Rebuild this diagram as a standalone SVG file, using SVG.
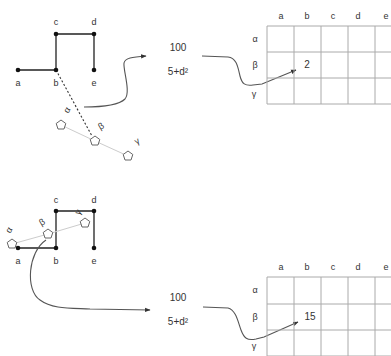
<svg xmlns="http://www.w3.org/2000/svg" width="391" height="356" viewBox="0 0 391 356">
<defs>
<style>
text{font-family:"Liberation Sans",Arial,sans-serif;font-size:9px;fill:#333;text-anchor:middle}
.e{stroke:#222;stroke-width:1.3;fill:none}
.n{fill:#111}
.g{stroke:#aaa;stroke-width:1;fill:none}
.c{stroke:#555;stroke-width:1.1;fill:none}
.l{stroke:#ccc;stroke-width:1;fill:none}
.p{stroke:#666;stroke-width:1;fill:#fff}
.f{font-size:10px}
</style>
<marker id="ah" viewBox="0 0 10 10" refX="9" refY="5" markerWidth="5" markerHeight="5" orient="auto">
<path d="M0,1 L10,5 L0,9 z" fill="#333"/>
</marker>
<polygon id="pent" points="0,-5 4.8,-1.5 3,4 -3,4 -4.8,-1.5"/>
</defs>

<!-- connectors -->
<g id="connectors">
<path class="e" d="M18,70 H56 V34 H94 V70"/>
<path d="M56,70 L92,136" stroke="#333" stroke-width="1.1" stroke-dasharray="2,2" fill="none"/>
<path class="l" d="M61,125 L95,141 L128,156"/>
<path class="c" marker-end="url(#ah)" d="M84,107 C100,107 118,106 125,99 C131,92 123,70 124,63 C125,58 132,57 146,56"/>
<path class="c" marker-end="url(#ah)" d="M202,56 L228,57 C237,58 238,68 240,76 C242,84 245,86 253,85 L262,84 L296,70"/>

<path class="e" d="M18,248 H56 V211 H94 V248"/>
<path class="l" d="M12,244 L48,234 L85,223"/>
<path class="c" marker-end="url(#ah)" d="M46,240 C28,252 25,290 40,300 C52,309 70,308 90,309 L150,310"/>
<path class="c" marker-end="url(#ah)" d="M203,307 L228,308 C236,310 238,322 241,330 C244,338 247,341 256,339 L264,337 L298,322"/>
</g>

<!-- top graph nodes -->
<g id="top-a"><circle class="n" cx="18" cy="70" r="2.3"/><text x="18" y="86">a</text></g>
<g id="top-b"><circle class="n" cx="56" cy="70" r="2.3"/><text x="56" y="86">b</text></g>
<g id="top-c"><circle class="n" cx="56" cy="34" r="2.3"/><text x="56" y="25">c</text></g>
<g id="top-d"><circle class="n" cx="94" cy="34" r="2.3"/><text x="94" y="25">d</text></g>
<g id="top-e"><circle class="n" cx="94" cy="70" r="2.3"/><text x="94" y="86">e</text></g>
<g id="top-alpha"><use href="#pent" class="p" x="61" y="125"/><text x="67" y="113" transform="rotate(-60 67 110)">α</text></g>
<g id="top-beta"><use href="#pent" class="p" x="95" y="141"/><text x="101" y="129" transform="rotate(-30 101 126)">β</text></g>
<g id="top-gamma"><use href="#pent" class="p" x="128" y="156"/><text x="137" y="144" transform="rotate(-30 137 141)">γ</text></g>

<g id="top-frac"><text class="f" x="178" y="51">100</text><text class="f" x="178" y="75">5+d²</text></g>

<g id="top-grid">
<path class="g" d="M267,26 H391 M267,52 H391 M267,78 H391 M267,104 H391 M267,26 V104 M294,26 V104 M321,26 V104 M348,26 V104 M375,26 V104"/>
<text x="281" y="19">a</text><text x="307" y="19">b</text><text x="333" y="19">c</text><text x="358" y="19">d</text><text x="386" y="19">e</text>
<text x="255" y="42">α</text><text x="255" y="68">β</text><text x="254" y="97">γ</text>
<text x="307" y="68" style="font-size:10px">2</text>
</g>

<!-- bottom graph nodes -->
<g id="bot-a"><circle class="n" cx="18" cy="248" r="2.3"/><text x="18" y="264">a</text></g>
<g id="bot-b"><circle class="n" cx="56" cy="248" r="2.3"/><text x="56" y="264">b</text></g>
<g id="bot-c"><circle class="n" cx="56" cy="211" r="2.3"/><text x="56" y="203">c</text></g>
<g id="bot-d"><circle class="n" cx="94" cy="211" r="2.3"/><text x="94" y="203">d</text></g>
<g id="bot-e"><circle class="n" cx="94" cy="248" r="2.3"/><text x="94" y="264">e</text></g>
<g id="bot-alpha"><use href="#pent" class="p" x="12" y="244"/><text x="9" y="233" transform="rotate(-60 9 230)">α</text></g>
<g id="bot-beta"><use href="#pent" class="p" x="48" y="234"/><text x="42" y="225" transform="rotate(-30 42 222)">β</text></g>
<g id="bot-gamma"><use href="#pent" class="p" x="85" y="223"/><text x="78" y="215" transform="rotate(-60 78 212)">γ</text></g>

<g id="bot-frac"><text class="f" x="178" y="301">100</text><text class="f" x="178" y="325">5+d²</text></g>

<g id="bot-grid">
<path class="g" d="M267,277 H391 M267,304 H391 M267,330 H391 M267,356 H391 M267,277 V356 M294,277 V356 M321,277 V356 M348,277 V356 M375,277 V356"/>
<text x="281" y="270">a</text><text x="307" y="270">b</text><text x="333" y="270">c</text><text x="358" y="270">d</text><text x="386" y="270">e</text>
<text x="255" y="293">α</text><text x="255" y="320">β</text><text x="254" y="349">γ</text>
<text x="310" y="320" style="font-size:10px">15</text>
</g>
</svg>
